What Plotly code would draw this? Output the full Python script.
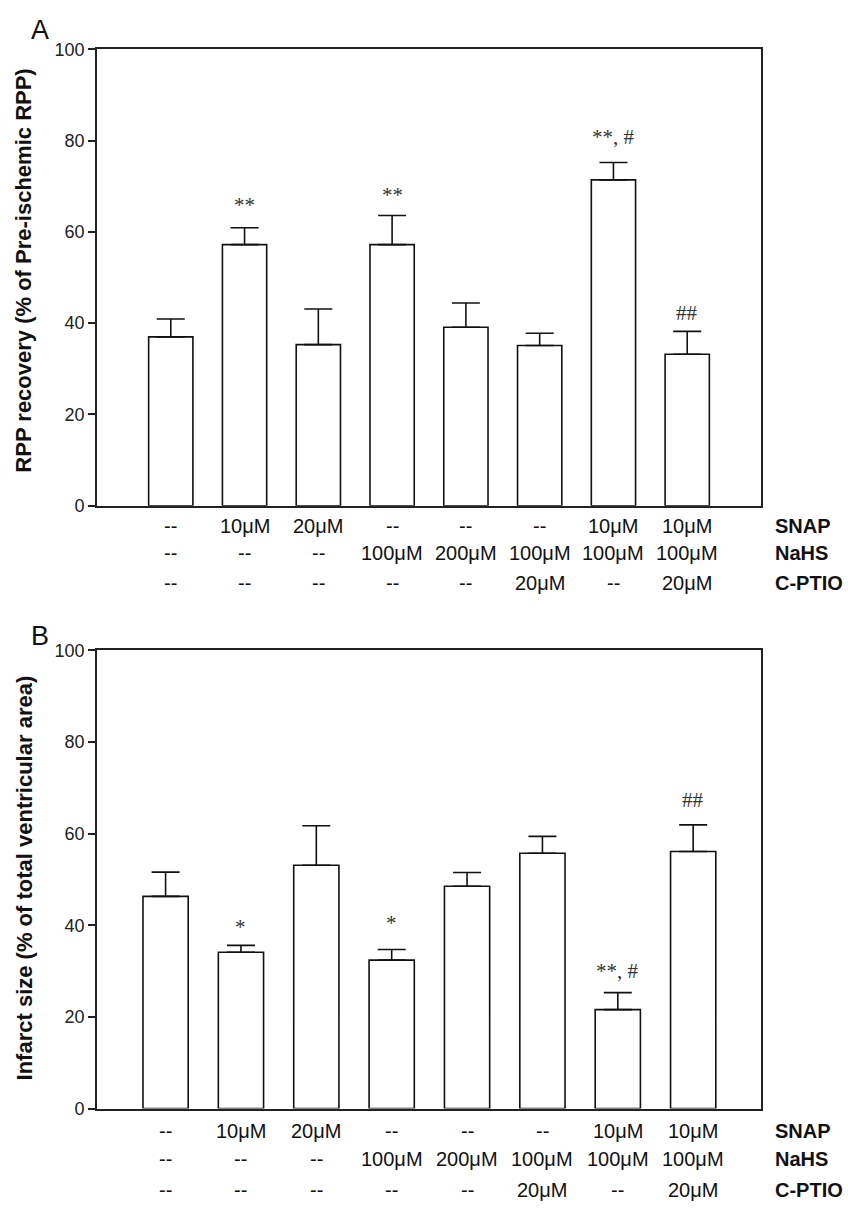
import plotly.graph_objects as go

# ---------------- data ----------------
snap_row = ["--", "10μM", "20μM", "--", "--", "--", "10μM", "10μM"]
nahs_row = ["--", "--", "--", "100μM", "200μM", "100μM", "100μM", "100μM"]
cptio_row = ["--", "--", "--", "--", "--", "20μM", "--", "20μM"]
row_names = ["SNAP", "NaHS", "C-PTIO"]

rpp_mean = [37.0, 57.2, 35.3, 57.2, 39.1, 35.1, 71.4, 33.2]
rpp_sem = [3.9, 3.7, 7.8, 6.4, 5.3, 2.7, 3.8, 5.0]
rpp_sig = ["", "**", "", "**", "", "", "**, #", "##"]
rpp_sig_y = [0, 65.9, 0, 68.1, 0, 0, 80.8, 42.2]

inf_mean = [46.3, 34.1, 53.1, 32.4, 48.5, 55.7, 21.6, 56.1]
inf_sem = [5.3, 1.5, 8.6, 2.3, 3.0, 3.7, 3.7, 5.8]
inf_sig = ["", "*", "", "*", "", "", "**, #", "##"]
inf_sig_y = [0, 39.7, 0, 40.5, 0, 0, 30.0, 67.3]

y_ticks = [0, 20, 40, 60, 80, 100]
title_a = "RPP recovery (% of Pre-ischemic RPP)"
title_b = "Infarct size (% of total ventricular area)"

# ---------------- layout helpers ----------------
W, H = 848, 1212
AX = "#222222"
SANS = "Liberation Sans, Arial, sans-serif"
SERIF = "Liberation Serif, Times New Roman, serif"

def px_x(p):
    return p / W

def px_y(p):
    return 1 - p / H

xpos = list(range(len(snap_row)))

fig = go.Figure()

panels = [
    dict(mean=rpp_mean, sem=rpp_sem, sig=rpp_sig, sig_y=rpp_sig_y, xa="x", ya="y",
         top=40, bottom=504, xr=[-1.0, 8.0], rows_y=[525, 552, 583], letter="A",
         letter_y=20, title=title_a, title_y=265),
    dict(mean=inf_mean, sem=inf_sem, sig=inf_sig, sig_y=inf_sig_y, xa="x2", ya="y2",
         top=651, bottom=1117, xr=[-0.91, 7.9], rows_y=[1140, 1168, 1200], letter="B",
         letter_y=637, title=title_b, title_y=883),
]

annotations = []
for i, p in enumerate(panels):
    fig.add_trace(go.Bar(
        x=xpos, y=p["mean"], xaxis=p["xa"], yaxis=p["ya"], width=0.6,
        marker=dict(color="white", line=dict(color="#111111", width=1.6)),
        error_y=dict(type="data", array=p["sem"], arrayminus=[0] * len(p["sem"]),
                     symmetric=False, color="#111111", thickness=1.6, width=14),
        showlegend=False, hoverinfo="skip",
    ))
    sfx = "" if i == 0 else "2"
    fig.update_layout(**{
        "xaxis" + sfx: dict(domain=[px_x(97), px_x(761)], range=p["xr"], anchor="y" + sfx,
                            showline=True, linecolor=AX, linewidth=1.6, mirror=True,
                            showticklabels=False, ticks="", showgrid=False, zeroline=False,
                            fixedrange=True),
        "yaxis" + sfx: dict(domain=[px_y(p["bottom"]), px_y(p["top"])], range=[0, 100],
                            anchor="x" + sfx, showline=True, linecolor=AX, linewidth=1.6,
                            mirror=True, ticks="outside", ticklen=7, tickwidth=1.6,
                            tickcolor=AX, tickvals=y_ticks,
                            tickfont=dict(family=SANS, size=18, color=AX),
                            showgrid=False, zeroline=False, fixedrange=True),
    })
    # significance marks
    for k, s in enumerate(p["sig"]):
        if s:
            annotations.append(dict(x=xpos[k], y=p["sig_y"][k], xref=p["xa"], yref=p["ya"],
                                    text=s, showarrow=False, yanchor="middle",
                                    font=dict(family=SERIF, size=21, color="#333333")))
    # treatment table under the axis
    for r, row in enumerate([snap_row, nahs_row, cptio_row]):
        for k, lab in enumerate(row):
            annotations.append(dict(x=xpos[k], y=px_y(p["rows_y"][r]), xref=p["xa"], yref="paper",
                                    text=lab, showarrow=False, yanchor="middle",
                                    font=dict(family=SANS, size=20, color="#111111")))
        annotations.append(dict(x=px_x(773), y=px_y(p["rows_y"][r]), xref="paper", yref="paper",
                                text="<b>" + row_names[r] + "</b>", showarrow=False,
                                xanchor="left", yanchor="middle",
                                font=dict(family=SANS, size=20, color="#111111")))
    # panel letter
    annotations.append(dict(x=px_x(40), y=px_y(p["letter_y"]), xref="paper", yref="paper",
                            text=p["letter"], showarrow=False, xanchor="center", yanchor="middle",
                            font=dict(family=SANS, size=27, color="#111111")))
    # y-axis title
    annotations.append(dict(x=px_x(24), y=px_y(p["title_y"]), xref="paper", yref="paper",
                            text="<b>" + p["title"] + "</b>", showarrow=False, textangle=-90,
                            xanchor="center", yanchor="middle",
                            font=dict(family=SANS, size=22, color="#111111")))

fig.update_layout(
    width=W, height=H, margin=dict(l=0, r=0, t=0, b=0),
    paper_bgcolor="white", plot_bgcolor="white",
    annotations=annotations, bargap=0.4,
)

fig.write_html(
    "out.html",
    config={"displayModeBar": False},
    post_script="document.body.style.margin='0';document.body.style.overflow='hidden';",
)
